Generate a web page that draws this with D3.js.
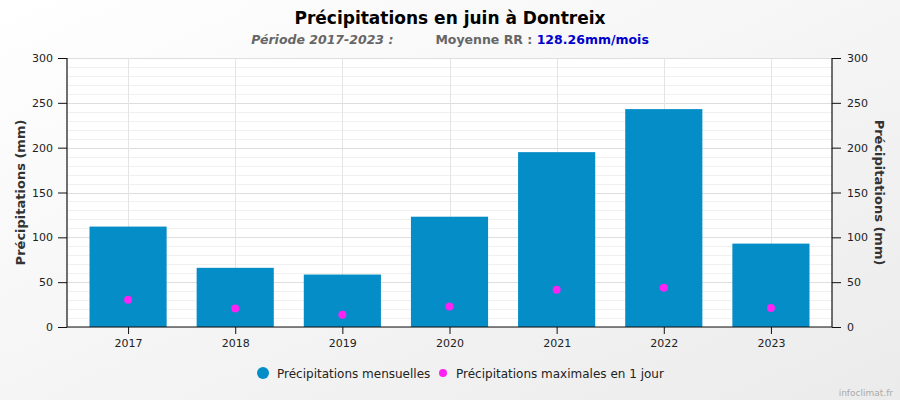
<!DOCTYPE html>
<html>
<head>
<meta charset="utf-8">
<script src="https://cdn.jsdelivr.net/npm/d3@7"></script>
<style>
  body { margin: 0; }
  svg { display: block; font-family: "DejaVu Sans", Verdana, sans-serif; }
</style>
</head>
<body>
<svg id="chart" width="900" height="400"></svg>
<script>
// Data
const years = ["2017", "2018", "2019", "2020", "2021", "2022", "2023"];
const monthly = [112, 66, 58.5, 123, 195, 243, 93];   // Précipitations mensuelles
const maxDay = [30.5, 20.5, 13.8, 22.8, 41.6, 43.8, 21.3]; // Précipitations maximales en 1 jour
const yTicks = [0, 50, 100, 150, 200, 250, 300];

// Layout
const width = 900;
const height = 400;
const margin = { top: 58, right: 68, bottom: 73, left: 67 };
const plotW = width - margin.left - margin.right;
const plotH = height - margin.top - margin.bottom;

const svg = d3.select("#chart");

// Background gradient
const defs = svg.append("defs");
const grad = defs.append("linearGradient")
  .attr("id", "bg")
  .attr("x1", 0).attr("y1", 0).attr("x2", 1).attr("y2", 1);
grad.append("stop").attr("offset", "0%").attr("stop-color", "#ffffff");
grad.append("stop").attr("offset", "100%").attr("stop-color", "#ebebeb");

svg.append("rect")
  .attr("width", width).attr("height", height)
  .attr("fill", "url(#bg)");

// Scales
const x = d3.scalePoint()
  .domain(years)
  .range([margin.left, margin.left + plotW])
  .padding(0.57);

const y = d3.scaleLinear()
  .domain([0, 300])
  .range([margin.top + plotH, margin.top]);

const barWidth = x.step() * 0.72;

// Plot background
svg.append("rect")
  .attr("x", margin.left).attr("y", margin.top)
  .attr("width", plotW).attr("height", plotH)
  .attr("fill", "#fff");

// Minor grid lines
svg.append("g")
  .selectAll("line")
  .data(d3.range(0, 301, 10).filter(v => v % 50 !== 0))
  .join("line")
    .attr("x1", margin.left).attr("x2", margin.left + plotW)
    .attr("y1", d => Math.round(y(d)) + 0.5).attr("y2", d => Math.round(y(d)) + 0.5)
    .attr("stroke", "#f0f0f0");

// Major grid lines
svg.append("g")
  .selectAll("line")
  .data(yTicks)
  .join("line")
    .attr("x1", margin.left).attr("x2", margin.left + plotW)
    .attr("y1", d => Math.round(y(d)) + 0.5).attr("y2", d => Math.round(y(d)) + 0.5)
    .attr("stroke", "#dedede");

// Vertical grid lines at each year
svg.append("g")
  .selectAll("line")
  .data(years)
  .join("line")
    .attr("x1", d => Math.round(x(d)) + 0.5).attr("x2", d => Math.round(x(d)) + 0.5)
    .attr("y1", margin.top).attr("y2", margin.top + plotH)
    .attr("stroke", "#e4e4e4");

// Bars
svg.append("g")
  .selectAll("rect")
  .data(years)
  .join("rect")
    .attr("x", d => x(d) - barWidth / 2)
    .attr("y", (d, i) => y(monthly[i]))
    .attr("width", barWidth)
    .attr("height", (d, i) => y(0) - y(monthly[i]))
    .attr("fill", "#058dc7");

// Max daily rainfall dots
svg.append("g")
  .selectAll("circle")
  .data(years)
  .join("circle")
    .attr("cx", d => x(d))
    .attr("cy", (d, i) => y(maxDay[i]))
    .attr("r", 4)
    .attr("fill", "#ff22f4");

// Axes
const leftAxis = svg.append("g")
  .attr("transform", `translate(${margin.left},0)`)
  .call(d3.axisLeft(y).tickValues(yTicks).tickSize(9).tickPadding(5));

const rightAxis = svg.append("g")
  .attr("transform", `translate(${margin.left + plotW},0)`)
  .call(d3.axisRight(y).tickValues(yTicks).tickSize(9).tickPadding(6));

const bottomAxis = svg.append("g")
  .attr("transform", `translate(0,${margin.top + plotH})`)
  .call(d3.axisBottom(x).tickSize(7).tickPadding(5));

[leftAxis, rightAxis, bottomAxis].forEach(g => {
  g.select(".domain").attr("stroke", "#111").attr("stroke-width", 1.2);
  g.selectAll(".tick line").attr("stroke", "#111");
  g.selectAll(".tick text")
    .attr("fill", "#222")
    .style("font-size", "11px")
    .style("font-family", "'DejaVu Sans', Verdana, sans-serif");
});
bottomAxis.select(".domain").attr("d", `M${margin.left},0H${margin.left + plotW}`);
leftAxis.select(".domain").attr("d", `M0,${margin.top}V${margin.top + plotH}`);
rightAxis.select(".domain").attr("d", `M0,${margin.top}V${margin.top + plotH}`);

// Axis titles
svg.append("text")
  .attr("transform", `translate(25,${margin.top + plotH / 2}) rotate(-90)`)
  .attr("text-anchor", "middle")
  .attr("font-size", 13).attr("font-weight", "bold")
  .attr("fill", "#333")
  .text("Précipitations (mm)");

svg.append("text")
  .attr("transform", `translate(875,${margin.top + plotH / 2}) rotate(90)`)
  .attr("text-anchor", "middle")
  .attr("font-size", 13).attr("font-weight", "bold")
  .attr("fill", "#333")
  .text("Précipitations (mm)");

// Title
svg.append("text")
  .attr("x", width / 2).attr("y", 24)
  .attr("text-anchor", "middle")
  .attr("font-size", 17).attr("font-weight", "bold")
  .attr("fill", "#000")
  .text("Précipitations en juin à Dontreix");

// Subtitle
const sub = svg.append("text")
  .attr("x", width / 2).attr("y", 44)
  .attr("text-anchor", "middle")
  .attr("font-size", 12.5).attr("font-weight", "bold")
  .attr("fill", "#666");
sub.append("tspan").attr("font-style", "italic").text("Période 2017-2023 :");
sub.append("tspan").attr("dx", 42).text("Moyenne RR : ");
sub.append("tspan").attr("fill", "#0000cc").text("128.26mm/mois");

// Legend
const legend = svg.append("g").attr("font-size", 12).attr("fill", "#222");
legend.append("circle").attr("cx", 263).attr("cy", 373).attr("r", 6).attr("fill", "#058dc7");
legend.append("text").attr("x", 277).attr("y", 378).text("Précipitations mensuelles");
legend.append("circle").attr("cx", 443).attr("cy", 373).attr("r", 4).attr("fill", "#ff22f4");
legend.append("text").attr("x", 456).attr("y", 378).text("Précipitations maximales en 1 jour");

// Credit
svg.append("text")
  .attr("x", 893).attr("y", 396)
  .attr("text-anchor", "end")
  .attr("font-size", 9).attr("fill", "#aaa")
  .text("infoclimat.fr");
</script>
</body>
</html>
